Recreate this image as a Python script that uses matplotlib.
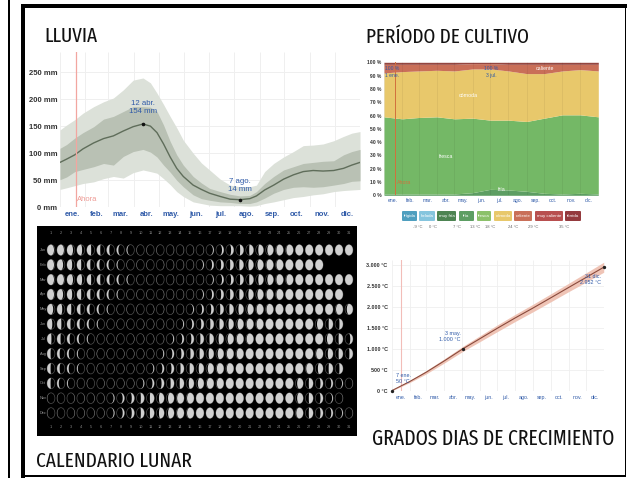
import numpy as np
import matplotlib
matplotlib.use("Agg")
import matplotlib.pyplot as plt
from matplotlib.patches import Ellipse, Rectangle, FancyBboxPatch

W, H = 627, 478
TITLE_FONT = ["Fira Sans Extra Condensed", "PT Sans Narrow", "Carlito", "Roboto"]
plt.rcParams["font.family"] = ["Liberation Sans", "DejaVu Sans"]

months = ["ene.", "feb.", "mar.", "abr.", "may.", "jun.", "jul.", "ago.", "sep.", "oct.", "nov.", "dic."]
month_starts = [0, 31, 59, 90, 120, 151, 181, 212, 243, 273, 304, 334, 365]
month_mids = [15, 45, 74, 105, 135, 166, 196, 227, 258, 288, 319, 349]
ahora_day = 19

titles = ["LLUVIA", "PERÍODO DE CULTIVO", "CALENDARIO LUNAR", "GRADOS DIAS DE CRECIMIENTO"]
title_x = [44, 366, 36, 372]
title_base = [42, 43, 467, 445]
title_width = [53, 163, 155, 242]

# lluvia
rain_days = [0, 8, 18, 28, 41, 53, 65, 77, 89, 101, 110, 118, 126, 134, 142, 150, 162, 172, 182,
             195, 207, 219, 231, 239, 249, 260, 272, 284, 296, 308, 320, 333, 345, 355, 365]
rain_med = [83, 89, 97, 108, 119, 127, 132, 141, 149, 154, 150, 138, 117, 93, 72, 57, 41, 33, 26,
            20, 15, 14, 16, 21, 32, 41, 52, 60, 66, 68, 67, 68, 72, 78, 83]
rain_p90 = [143, 152, 162, 174, 186, 195, 202, 217, 235, 239, 230, 211, 190, 168, 147, 124, 100, 82, 69,
            52, 41, 38, 38, 41, 66, 81, 93, 103, 114, 115, 117, 123, 131, 137, 140]
rain_p75 = [109, 116, 128, 138, 149, 163, 168, 177, 186, 186, 185, 177, 152, 122, 97, 78, 57, 45, 35,
            29, 24, 21, 22, 29, 44, 57, 69, 75, 81, 83, 85, 86, 97, 103, 107]
rain_p25 = [51, 56, 66, 70, 75, 81, 78, 94, 103, 107, 102, 93, 78, 65, 50, 38, 23, 16, 13,
            10, 9, 7, 7, 10, 17, 26, 33, 37, 38, 37, 38, 41, 44, 48, 49]
rain_p10 = [33, 36, 40, 44, 47, 53, 57, 54, 64, 69, 66, 63, 53, 42, 29, 20, 10, 7, 4,
            3, 3, 3, 2, 3, 7, 10, 14, 18, 20, 23, 25, 29, 31, 32, 33]
rain_ticks = [0, 50, 100, 150, 200, 250]

# periodo de cultivo (porcentajes acumulados)
crop_days = [0, 31, 59, 90, 120, 151, 181, 212, 243, 273, 304, 334, 365]
crop_fria = [1, 1, 1, 1, 1, 2, 4.5, 4, 3, 1.5, 1, 1.5, 1]
crop_fresca = [59, 57.5, 58.5, 59, 57.5, 58, 56.5, 56.5, 55.5, 58, 60.5, 60.5, 59]
crop_comoda = [92, 93, 93.5, 94, 93.5, 95, 95, 93.5, 91.5, 91.5, 93.5, 94.5, 93.5]
crop_caliente = [98.5, 98.5, 98.5, 98.5, 98.5, 99, 99, 98.5, 98.5, 98.5, 98.5, 98.5, 98.5]
crop_top = [100] * 13
crop_ticks = list(range(0, 101, 10))
band_names = ["frígida", "helada", "muy fría", "fría", "fresca", "cómoda", "caliente", "muy caliente", "tórrida"]
band_colors = ["#4f9fbf", "#86c5de", "#4d8452", "#5d9e63", "#8cc16a", "#e8c86b", "#c96f58", "#b84f4f", "#943a3e"]
band_x0 = [402, 419, 437, 459, 477, 494, 514, 535, 565]
band_x1 = [417, 435, 456, 474, 491, 512, 532, 563, 581]
temp_labels = ["-9 °C", "0 °C", "7 °C", "13 °C", "18 °C", "24 °C", "29 °C", "35 °C"]
temp_x = [418, 433, 457, 475, 490, 513, 533, 564]

# grados dia
gdd_days = [0, 31, 59, 90, 122, 151, 181, 212, 243, 273, 304, 334, 364]
gdd_med = [0, 220, 440, 710, 1000, 1240, 1490, 1740, 1980, 2220, 2470, 2710, 2952]
gdd_spread = [5, 25, 40, 50, 60, 70, 80, 85, 90, 95, 100, 110, 120]
gdd_ticks = [0, 500, 1000, 1500, 2000, 2500, 3000]
gdd_labels = ["0 °C", "500 °C", "1.000 °C", "1.500 °C", "2.000 °C", "2.500 °C", "3.000 °C"]

# calendario lunar: nivel de luz 0-9 por dia, luna nueva en new_day
moon_months = ["Jan", "Feb", "Mar", "Apr", "May", "Jun", "Jul", "Aug", "Sep", "Oct", "Nov", "Dec"]
new_day = [13, 12, 13, 12, 11, 10, 9, 8, 7, 6, 3, 3]
moon_rows = [
    "8876543210000000123456788999999",
    "8765432100000001234567889999",
    "8876543210000000123456788999999",
    "876543210000000123456788999999",
    "7654321000000012345678899999987",
    "654321000000012345678899999754",
    "5432100000001234567889999999753",
    "4321000000012345678899999998654",
    "432100000012345678899999998654",
    "4210000001234567889999999753210",
    "000000123456788999999999975310",
    "0000001234567889999999999853210",
]

BLUE = "#2f5aa8"
GRID = "#efefef"


def ax_px(x0, y0, x1, y1):
    ax = fig.add_axes([x0 / W, 1 - y1 / H, (x1 - x0) / W, (y1 - y0) / H])
    ax.patch.set_alpha(0)
    for s in ax.spines.values():
        s.set_visible(False)
    return ax


fig = plt.figure(figsize=(W / 100, H / 100), dpi=100, facecolor="white")
renderer = fig.canvas.get_renderer()

# marco y titulos
bg = ax_px(0, 0, W, H)
bg.set_xlim(0, W)
bg.set_ylim(H, 0)
bg.axis("off")
for x, y, w, h in [(8, 0, 2, 478), (21, 4, 4, 474), (21, 4, 606, 4), (624.5, 4, 1.5, 473), (21, 475, 605, 2)]:
    bg.add_patch(Rectangle((x, y), w, h, color="black", lw=0))
for s, x, y, target in zip(titles, title_x, title_base, title_width):
    tt = bg.text(x, y, s, family=TITLE_FONT, fontsize=18, va="baseline", color="#111111")
    tt.set_fontsize(18 * target / tt.get_window_extent(renderer).width)

# LLUVIA
ax = ax_px(60, 52, 360, 207.3)
ax.set_xlim(0, 365)
ax.set_ylim(0, 287)
ax.fill_between(rain_days, rain_p10, rain_p90, color="#dce1d9", lw=0)
ax.fill_between(rain_days, rain_p25, rain_p75, color="#b9c1b4", lw=0)
ax.plot(rain_days, rain_med, color="#5f6d5a", lw=1)
ax.vlines(month_starts, 0, 287, color=GRID, lw=0.7, zorder=0)
ax.hlines(rain_ticks, 0, 365, color=GRID, lw=0.7, zorder=0)
ax.axvline(ahora_day, color="#f2a6a0", lw=0.9)
ax.text(ahora_day + 2, 14, "Ahora", color="#ee9a94", fontsize=5.5, va="center")
ax.plot([101, 219], [154, 14], "o", color="#111111", ms=1.6)
ax.text(101, 184, "12 abr.\n154 mm", color=BLUE, fontsize=5.6, ha="center", va="center", linespacing=1.2)
ax.text(219, 41, "7 ago.\n14 mm", color=BLUE, fontsize=5.6, ha="center", va="center", linespacing=1.2)
ax.set_xticks(month_mids, months, color=BLUE, fontsize=5.5, fontweight="bold")
ax.set_yticks(rain_ticks, [f"{v} mm" for v in rain_ticks], color="#333333", fontsize=5.5, fontweight="bold")
ax.tick_params(length=0, pad=3)
ax.tick_params(axis="y", pad=2)

# PERIODO DE CULTIVO
ax = ax_px(384, 62.3, 598.3, 195.3)
ax.set_xlim(0, 365)
ax.set_ylim(0, 100)
ax.fill_between(crop_days, 0, crop_fria, color="#5d9e63", lw=0)
ax.fill_between(crop_days, crop_fria, crop_fresca, color="#74b866", lw=0)
ax.fill_between(crop_days, crop_fresca, crop_comoda, color="#e8c86b", lw=0)
ax.fill_between(crop_days, crop_comoda, crop_caliente, color="#c96f58", lw=0)
ax.fill_between(crop_days, crop_caliente, crop_top, color="#94453f", lw=0)
ax.vlines(month_starts, 0, 100, color="#000000", alpha=0.06, lw=0.6)
ax.axvline(18, color="#d2703c", lw=0.7)
ax.text(22, 10, "Ahora", color="#d2703c", fontsize=3.8, va="center", ha="left")
ax.text(14, 93, "100 %\n1 ene.", color=BLUE, fontsize=3.6, ha="center", va="center", linespacing=1.5)
ax.text(183, 93, "100 %\n3 jul.", color=BLUE, fontsize=3.6, ha="center", va="center", linespacing=1.5)
for name, d, v in [("cómoda", 143, 75), ("fresca", 106, 29), ("fría", 201, 4), ("caliente", 274, 95.5)]:
    ax.text(d, v, name, color="white", fontsize=3.8, ha="center", va="center")
ax.set_xticks(month_mids, months, color=BLUE, fontsize=3.6)
ax.set_yticks(crop_ticks, [f"{v} %" for v in crop_ticks], color="#333333", fontsize=3.6, fontweight="bold")
ax.tick_params(length=0, pad=2)

for name, c, x0, x1 in zip(band_names, band_colors, band_x0, band_x1):
    bg.add_patch(FancyBboxPatch((x0 + 1, 212), x1 - x0 - 2, 8, boxstyle="round,pad=1", fc=c, ec="none"))
    bg.text((x0 + x1) / 2, 216, name, color="white", fontsize=3.2, ha="center", va="center")
for t, x in zip(temp_labels, temp_x):
    bg.text(x, 227, t, color="#666666", fontsize=3, ha="center", va="center")

# GRADOS DIA
ax = ax_px(391.7, 260, 604.3, 390.7)
ax.set_xlim(0, 365)
ax.set_ylim(0, 3125)
lo = [m - s for m, s in zip(gdd_med, gdd_spread)]
hi = [m + s for m, s in zip(gdd_med, gdd_spread)]
ax.vlines(month_starts, 0, 3125, color=GRID, lw=0.6, zorder=0)
ax.hlines(gdd_ticks, 0, 365, color=GRID, lw=0.6, zorder=0)
ax.axvline(16, color="#f2bdb8", lw=0.8)
ax.fill_between(gdd_days, lo, hi, color="#efc4b6", lw=0)
ax.plot(gdd_days, gdd_med, color="#8a4a3c", lw=0.8)
ax.plot([0, 122, 364], [0, 1000, 2952], "o", color="#222222", ms=1.4, clip_on=False)
ax.text(7, 300, "7 ene.\n50 °C", color=BLUE, fontsize=3.9, ha="left", va="center", linespacing=1.3)
ax.text(118, 1290, "3 may.\n1.000 °C", color=BLUE, fontsize=3.9, ha="right", va="center", linespacing=1.3)
ax.text(360, 2660, "31 dic.\n2.952 °C", color=BLUE, fontsize=3.9, ha="right", va="center", linespacing=1.3)
ax.set_xticks(month_mids, months, color=BLUE, fontsize=3.8)
ax.set_yticks(gdd_ticks, gdd_labels, color="#333333", fontsize=3.9, fontweight="bold")
ax.tick_params(length=0, pad=3)

# CALENDARIO LUNAR
ax = ax_px(37, 226, 357, 436)
ax.set_xlim(-0.41, 31.81)
ax.set_ylim(13.55, -0.62)
ax.set_facecolor("black")
ax.patch.set_alpha(1)
ax.set_xticks([])
ax.set_yticks([])
rx, ry = 0.39, 0.36
t = np.linspace(0, np.pi, 40)
for r, (row, new) in enumerate(zip(moon_rows, new_day), start=1):
    ax.text(0.2, r, moon_months[r - 1], color="#9a9a9a", fontsize=2.8, ha="center", va="center")
    for d, ch in enumerate(row, start=1):
        f = max(int(ch) / 9, 0.02)
        side = -1 if d < new else 1
        xs = np.concatenate([side * rx * np.sin(t), -side * rx * (2 * f - 1) * np.sin(t[::-1])])
        ys = np.concatenate([ry * np.cos(t), ry * np.cos(t[::-1])])
        ax.add_patch(Ellipse((d, r), 2 * rx, 2 * ry, fc="none", ec="#4f4f4f", lw=0.5))
        ax.fill(d + xs, r + ys, color="#d0d0d0", lw=0)
for d in range(1, 32):
    ax.text(d, -0.13, str(d), color="#8a8a8a", fontsize=2.8, ha="center", va="center")
    ax.text(d, 12.93, str(d), color="#8a8a8a", fontsize=2.8, ha="center", va="center")

fig.savefig("out.png", dpi=100, facecolor="white")
